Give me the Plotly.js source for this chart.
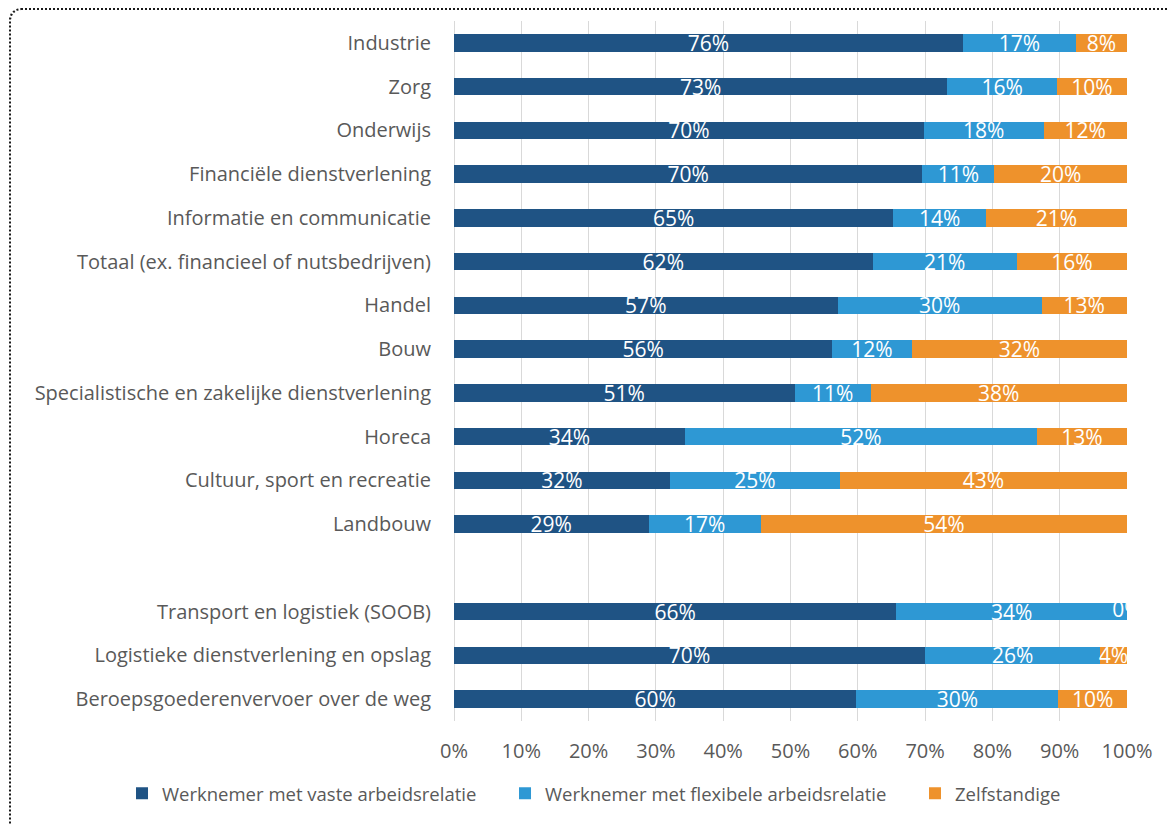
<!DOCTYPE html>
<html>
<head>
<meta charset="utf-8">
<script src="https://cdn.plot.ly/plotly-3.0.1.min.js"></script>
<style>
  html, body { margin: 0; padding: 0; background: #ffffff; overflow: hidden; }
  #frame { position: absolute; left: 9px; top: 8px; width: 1200px; height: 860px;
           border: 2px dotted #1a1a1a; border-radius: 12px; pointer-events: none; z-index: 2; }
  #chart { position: absolute; left: 0; top: 0; width: 1168px; height: 825px; z-index: 1; }
</style>
</head>
<body>
<div id="chart"></div>
<div id="frame"></div>
<script>
// Categories (top to bottom); the blank entry is the gap in the reference
const categories = [
  "Industrie",
  "Zorg",
  "Onderwijs",
  "Financiële dienstverlening",
  "Informatie en communicatie",
  "Totaal (ex. financieel of nutsbedrijven)",
  "Handel",
  "Bouw",
  "Specialistische en zakelijke dienstverlening",
  "Horeca",
  "Cultuur, sport en recreatie",
  "Landbouw",
  " ",
  "Transport en logistiek (SOOB)",
  "Logistieke dienstverlening en opslag",
  "Beroepsgoederenvervoer over de weg"
];

// Shares in percent (null for the blank gap row)
const vast = [75.6, 73.3, 69.8, 69.6, 65.3, 62.2, 57.0, 56.2, 50.6, 34.3, 32.1, 28.9, null, 65.7, 70.0, 59.8];
const flexibel = [16.8, 16.3, 17.8, 10.7, 13.7, 21.4, 30.3, 11.8, 11.3, 52.3, 25.2, 16.7, null, 34.3, 26.0, 30.0];
const zelfstandig = [7.6, 10.4, 12.4, 19.7, 21.0, 16.4, 12.7, 32.0, 38.1, 13.4, 42.7, 54.4, null, 0.0, 4.0, 10.2];

const seriesNames = [
  "Werknemer met vaste arbeidsrelatie",
  "Werknemer met flexibele arbeidsrelatie",
  "Zelfstandige"
];
const xTickVals = [0, 10, 20, 30, 40, 50, 60, 70, 80, 90, 100];
const xTickText = ["0%", "10%", "20%", "30%", "40%", "50%", "60%", "70%", "80%", "90%", "100%"];

const colors = ["#1f5384", "#2e98d4", "#ee922c"];
const FONT = "Open Sans, Noto Sans, sans-serif";
const LABEL_SIZE = 21;

function barTrace(vals, name, color, legendId) {
  return {
    type: "bar",
    orientation: "h",
    name: name,
    legend: legendId,
    y: categories,
    x: vals,
    marker: { color: color, line: { width: 0 } },
    text: vals.map(v => v === null ? "" : Math.round(v) + "%"),
    textposition: "inside",
    insidetextanchor: "middle",
    constraintext: "none",
    textangle: 0,
    textfont: { family: FONT, size: LABEL_SIZE, color: "#ffffff" },
    hoverinfo: "name+x",
    cliponaxis: true
  };
}

const data = [
  barTrace(vast, seriesNames[0], colors[0], "legend"),
  barTrace(flexibel, seriesNames[1], colors[1], "legend2"),
  barTrace(zelfstandig, seriesNames[2], colors[2], "legend3")
];

// labels for zero-width segments, placed at the stacked end (clipped by plot area)
const zeroY = [], zeroX = [], zeroT = [];
categories.forEach((c, i) => {
  if (zelfstandig[i] === 0) {
    zeroY.push(c);
    zeroX.push(vast[i] + flexibel[i] + zelfstandig[i]);
    zeroT.push("0%");
  }
});
data.push({
  type: "scatter", mode: "text", x: zeroX, y: zeroY, text: zeroT,
  textposition: "middle center", textfont: { family: FONT, size: LABEL_SIZE, color: "#ffffff" },
  showlegend: false, hoverinfo: "skip", cliponaxis: true
});

function legendAt(x) {
  return {
    orientation: "h",
    xref: "paper",
    yref: "paper",
    x: x,
    xanchor: "left",
    y: -0.104,
    yanchor: "middle",
    bgcolor: "rgba(0,0,0,0)",
    font: { family: FONT, size: 18.5, color: "#595959" },
    itemclick: false,
    itemdoubleclick: false
  };
}

const layout = {
  width: 1168,
  height: 825,
  margin: { l: 454, r: 41, t: 21, b: 104 },
  paper_bgcolor: "rgba(0,0,0,0)",
  plot_bgcolor: "#ffffff",
  barmode: "stack",
  bargap: 0.6,
  font: { family: FONT, color: "#595959" },
  xaxis: {
    range: [0, 100],
    tickvals: xTickVals,
    ticktext: xTickText,
    showgrid: true,
    gridcolor: "#d9d9d9",
    gridwidth: 1,
    zeroline: true,
    zerolinecolor: "#d9d9d9",
    zerolinewidth: 1,
    showline: false,
    ticks: "",
    ticklabelstandoff: 16,
    tickfont: { family: FONT, size: 20, color: "#595959" },
    fixedrange: true
  },
  yaxis: {
    type: "category",
    categoryorder: "array",
    categoryarray: categories,
    autorange: "reversed",
    showgrid: false,
    zeroline: false,
    showline: false,
    ticks: "",
    ticklabelstandoff: 22,
    tickfont: { family: FONT, size: 20, color: "#595959" },
    fixedrange: true
  },
  showlegend: true,
  legend: legendAt(-0.4933),
  legend2: legendAt(0.0758),
  legend3: legendAt(0.685)
};

Plotly.newPlot("chart", data, layout, { displayModeBar: false, staticPlot: true });
</script>
</body>
</html>
